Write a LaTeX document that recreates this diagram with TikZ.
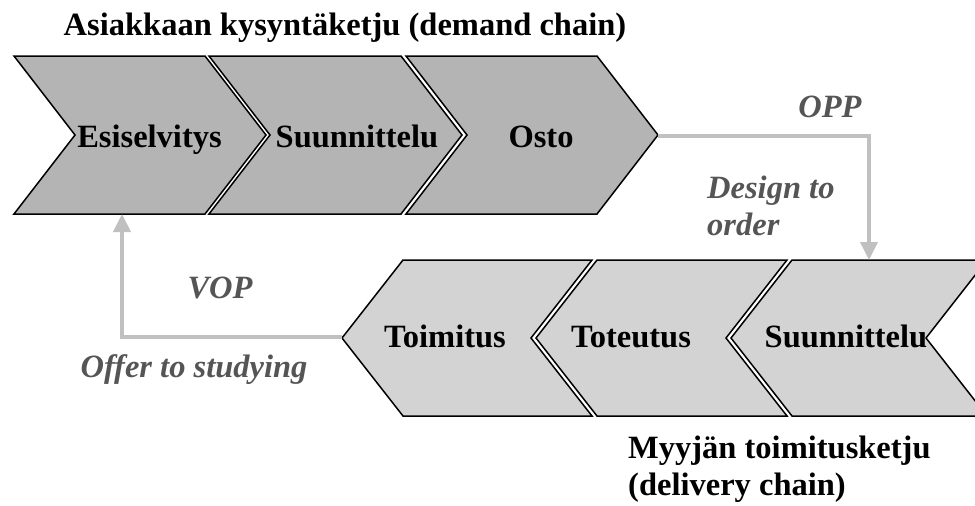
\documentclass[tikz,border=0pt]{standalone}
\usepackage{fontspec}
\setmainfont{Liberation Serif}
\usetikzlibrary{arrows.meta}

\definecolor{demandfill}{RGB}{180,180,180}
\definecolor{deliveryfill}{RGB}{211,211,211}
\definecolor{flowgray}{RGB}{192,192,192}
\definecolor{notegray}{RGB}{85,85,85}

\tikzset{
  stagebox/.style={draw=black, line width=1.5pt, line join=miter},
  demandstage/.style={stagebox, fill=demandfill},
  deliverystage/.style={stagebox, fill=deliveryfill},
  stagetext/.style={font=\fontsize{32.5}{37}\selectfont\bfseries, inner sep=0pt, anchor=base},
  headtext/.style={font=\fontsize{32.5}{37}\selectfont\bfseries, inner sep=0pt},
  notetext/.style={font=\fontsize{32.5}{37}\selectfont\bfseries\itshape, text=notegray, inner sep=0pt},
  flow/.style={draw=flowgray, line width=4pt, line join=miter,
    -{Triangle[length=18pt,width=17pt]}},
}

% right-pointing chevron: left x, right x, top y, bottom y, depth
\newcommand\chevronright[6]{%
  \path[#1] (#2,#4) -- (#3,#4) -- ({#3+#6},{(#4+#5)/2}) -- (#3,#5) -- (#2,#5)
    -- ({#2+#6},{(#4+#5)/2}) -- cycle;}
% left-pointing chevron: left x, right x, top y, bottom y, depth
\newcommand\chevronleft[6]{%
  \path[#1] (#2,#4) -- (#3,#4) -- ({#3-#6},{(#4+#5)/2}) -- (#3,#5) -- (#2,#5)
    -- ({#2-#6},{(#4+#5)/2}) -- cycle;}

\begin{document}
\begin{tikzpicture}[x=1pt, y=-1pt]
  \useasboundingbox (0,0) rectangle (975,506);
  \clip (0,0) rectangle (975,506);

  % demand chain (customer side)
  \chevronright{demandstage}{14}{205}{56}{214}{61}
  \chevronright{demandstage}{209}{401}{56}{214}{61}
  \chevronright{demandstage}{406}{597}{56}{214}{61}

  % delivery chain (seller side), running right to left
  \chevronleft{deliverystage}{403}{592}{260}{416}{61}
  \chevronleft{deliverystage}{597}{787}{260}{416}{61}
  \chevronleft{deliverystage}{792}{987}{260}{416}{61}

  % stage labels
  \node[stagetext] (esiselvitys) at (149.5,147) {Esiselvitys};
  \node[stagetext] (suunnA) at (357,147) {Suunnittelu};
  \node[stagetext] (osto) at (541,147) {Osto};
  \node[stagetext] (toimitus) at (445,347) {Toimitus};
  \node[stagetext] (toteutus) at (631,347) {Toteutus};
  \node[stagetext] (suunnB) at (846,347) {Suunnittelu};

  % connection points on the chevrons
  \coordinate (ostoTip) at (658,136);
  \coordinate (suunnTop) at (869,260);
  \coordinate (toimitusTip) at (342,337);
  \coordinate (esiBottom) at (122,214);

  % order penetration point and value offering point
  \draw[flow] (ostoTip) -| (suunnTop);
  \draw[flow] (toimitusTip) -| (esiBottom);

  % headings
  \node[headtext, anchor=base] (demandhead) at (345,35) {Asiakkaan kysyntäketju (demand chain)};
  \node[headtext, anchor=base west] (deliveryhead1) at (628,458) {Myyjän toimitusketju};
  \node[headtext, anchor=base west] (deliveryhead2) at (628,495) {(delivery chain)};

  % flow annotations
  \node[notetext, anchor=base] (opp) at (830,117) {OPP};
  \node[notetext, anchor=base west] (dto1) at (707,198) {Design to};
  \node[notetext, anchor=base west] (dto2) at (707,235) {order};
  \node[notetext, anchor=base] (vop) at (220,298) {VOP};
  \node[notetext, anchor=base] (ots) at (194,377) {Offer to studying};
\end{tikzpicture}
\end{document}
